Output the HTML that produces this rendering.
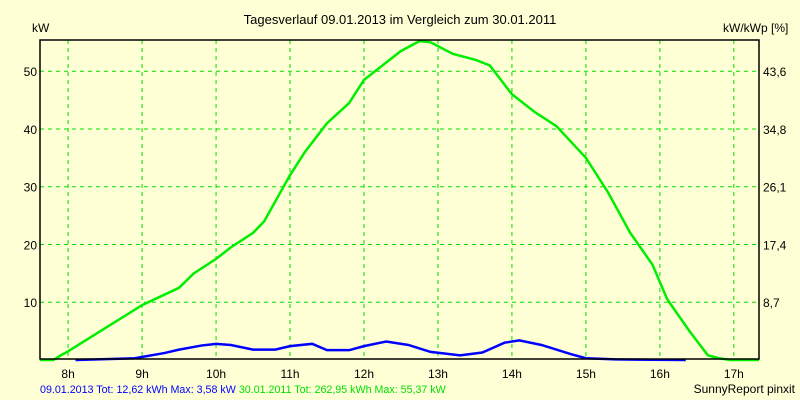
<!DOCTYPE html>
<html><head><meta charset="utf-8"><style>
body{margin:0;background:#ffffd6;}
svg{display:block;font-family:"Liberation Sans",sans-serif;font-size:12px;}
</style></head><body>
<svg id="c" width="800" height="400">
<rect width="800" height="400" fill="#ffffd6"/>
<text x="400" y="24" text-anchor="middle" fill="#000" style="font-size:13px">Tagesverlauf 09.01.2013 im Vergleich zum 30.01.2011</text>
<text x="32" y="32" fill="#000">kW</text>
<text x="723" y="32" fill="#000">kW/kWp [%]</text>
<g id="grid"></g><g id="series"></g><g id="axes"></g>
<text x="40" y="393" fill="#0000ff" style="font-size:10.7px">09.01.2013 Tot: 12,62 kWh Max: 3,58 kW <tspan fill="#00e000">30.01.2011 Tot: 262,95 kWh Max: 55,37 kW</tspan></text>
<text x="795" y="393" text-anchor="end" fill="#000">SunnyReport pinxit</text>
</svg>
<script>
const hourTicks=[8,9,10,11,12,13,14,15,16,17];
const yTicks=[10,20,30,40,50];
const y2Labels=["8,7","17,4","26,1","34,8","43,6"];
const greenH=[7.62,7.8,7.9,8.0,8.5,9.0,9.5,9.7,10,10.2,10.5,10.65,11,11.2,11.5,11.8,12.0,12.3,12.5,12.75,12.9,13.2,13.5,13.7,14,14.3,14.6,15,15.3,15.6,15.9,16.1,16.4,16.65,16.8,16.95,17.34];
const greenV=[0,0,0.8,1.5,5.5,9.5,12.5,15,17.5,19.5,22,24,32,36,41,44.5,48.5,51.5,53.5,55.2,55,53,52,51,46,43,40.5,35,29,22,16.5,10.5,5,0.8,0.3,0,0];
const blueH=[8.1,8.9,9.3,9.5,9.8,10.0,10.2,10.5,10.8,11.0,11.3,11.5,11.8,12.0,12.3,12.6,12.9,13.3,13.6,13.9,14.1,14.4,14.8,15.0,15.4,16.35];
const blueV=[0,0.3,1.2,1.8,2.5,2.8,2.6,1.8,1.8,2.4,2.8,1.7,1.7,2.4,3.2,2.6,1.4,0.8,1.3,3.0,3.4,2.6,1.0,0.3,0.1,0];
const L=40,R=759,T=40,B=360,hMin=7.62,hMax=17.34,vMax=55.4;
const sx=h=>L+(h-hMin)/(hMax-hMin)*(R-L);
const sy=v=>B-v/vMax*(B-T);
const NS="http://www.w3.org/2000/svg";
function mk(tag,attrs,parent){const e=document.createElementNS(NS,tag);for(const k in attrs)e.setAttribute(k,attrs[k]);document.getElementById(parent).appendChild(e);return e;}
hourTicks.forEach(h=>{
 const l=mk('line',{x1:sx(h),x2:sx(h),y1:T,y2:B,stroke:'#00e000','stroke-dasharray':'4,4'},'grid');
 
 
 const t=mk('text',{x:sx(h),y:378,'text-anchor':'middle',fill:'#000'},'axes');t.textContent=h+'h';
 
 
});
yTicks.forEach((v,i)=>{
 const l=mk('line',{x1:L,x2:R,y1:sy(v),y2:sy(v),stroke:'#00e000','stroke-dasharray':'4,4'},'grid');
 
 
 const t=mk('text',{x:37,y:sy(v)+5,'text-anchor':'end',fill:'#000'},'axes');t.textContent=v;
 
 
 const t2=mk('text',{x:763,y:sy(v)+5,fill:'#000'},'axes');t2.textContent=y2Labels[i];
 
 
});
const box=mk('rect',{x:L,y:T,width:R-L,height:B-T-1,fill:'none',stroke:'#000','stroke-width':1.5},'axes');


const g=mk('polyline',{points:greenH.map((h,i)=>sx(h)+','+sy(greenV[i])).join(' '),fill:'none',stroke:'#00ee00','stroke-width':2.5},'series');


const b=mk('polyline',{points:blueH.map((h,i)=>sx(h)+','+sy(blueV[i])).join(' '),fill:'none',stroke:'#0000ff','stroke-width':2.5},'series');


</script>
</body></html>
